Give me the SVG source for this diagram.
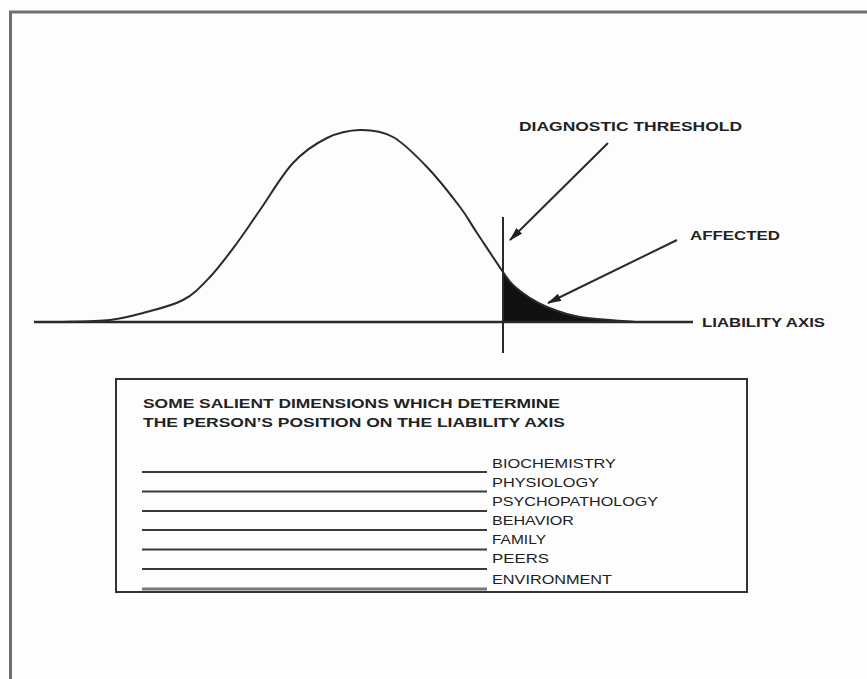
<svg xmlns="http://www.w3.org/2000/svg" width="867" height="679" viewBox="0 0 867 679">
<style>
.frame{fill:none;stroke:#6e6e6e;stroke-width:3}
.ink{fill:none;stroke:#2a2a2a;stroke-width:2}
.axis{fill:none;stroke:#2a2a2a;stroke-width:2.5}
.lbl{font-family:"Liberation Sans",Arial,sans-serif;font-weight:bold;font-size:13px;fill:#222}
.dim{font-family:"Liberation Sans",Arial,sans-serif;font-size:13px;fill:#222}
.rule{stroke:#3a3a3a;stroke-width:2}
.arrow{fill:none;stroke:#2a2a2a;stroke-width:2}
</style>
<defs>
<marker id="ah" viewBox="0 0 14 8" refX="13" refY="4" markerWidth="14" markerHeight="8" markerUnits="userSpaceOnUse" orient="auto">
<path d="M0,0 L14,4 L0,8 Z" fill="#222"/>
</marker>
</defs>
<rect width="867" height="679" fill="#fdfdfd"/>
<g id="frame">
<path class="frame" d="M10.5,679 L10.5,12 L867,12"/>
</g>
<g id="distribution">
<path id="tail" d="M503,272 C509,280.7 508.5,280.7 513,285 C517.5,289.3 524.3,294.3 530,298 C535.7,301.7 538.7,303.8 547,307 C555.3,310.2 565,314.5 580,317 C595,319.5 627.5,321.2 637,322 L503,322 Z" fill="#111"/>
<path id="curve" class="ink" d="M60,322 C68.3,321.7 96.2,321.5 110,320 C123.8,318.5 130.8,316.3 143,313 C155.2,309.7 171.8,306 183,300 C194.2,294 201,286.5 210,277 C219,267.5 228.7,254.2 237,243 C245.3,231.8 250.7,223.3 260,210 C269.3,196.7 281.8,175 293,163 C304.2,151 315.8,143.5 327,138 C338.2,132.5 349,130.2 360,130 C371,129.8 381.8,130.8 393,137 C404.2,143.2 415.8,155.3 427,167 C438.2,178.7 451.7,196 460,207 C468.3,218 469.8,222.2 477,233 C484.2,243.8 497,263.3 503,272 C509,280.7 508.5,280.7 513,285 C517.5,289.3 524.3,294.3 530,298 C535.7,301.7 538.7,303.8 547,307 C555.3,310.2 565,314.5 580,317 C595,319.5 627.5,321.2 637,322"/>
</g>
<g id="liability-axis">
<line class="axis" x1="34" y1="322" x2="693" y2="322"/>
<text class="lbl" x="702" y="326.5" textLength="123" lengthAdjust="spacingAndGlyphs">LIABILITY AXIS</text>
</g>
<g id="threshold">
<line class="ink" x1="503" y1="217" x2="503" y2="353"/>
</g>
<g id="label-threshold">
<text class="lbl" x="519" y="131" textLength="223" lengthAdjust="spacingAndGlyphs">DIAGNOSTIC THRESHOLD</text>
</g>
<g id="label-affected">
<text class="lbl" x="690" y="240" textLength="90" lengthAdjust="spacingAndGlyphs">AFFECTED</text>
</g>
<g id="connectors">
<line class="arrow" x1="608" y1="143" x2="510" y2="240" marker-end="url(#ah)"/>
<line class="arrow" x1="677" y1="240" x2="548" y2="303" marker-end="url(#ah)"/>
</g>
<g id="dimensions-box">
<rect x="116" y="379" width="631" height="213" fill="none" stroke="#333" stroke-width="2"/>
<text class="lbl" x="143" y="408" textLength="417" lengthAdjust="spacingAndGlyphs">SOME SALIENT DIMENSIONS WHICH DETERMINE</text>
<text class="lbl" x="143" y="427" textLength="422" lengthAdjust="spacingAndGlyphs">THE PERSON’S POSITION ON THE LIABILITY AXIS</text>
<line class="rule" x1="142" y1="472" x2="487" y2="472"/>
<line class="rule" x1="142" y1="491.5" x2="487" y2="491.5"/>
<line class="rule" x1="142" y1="511" x2="487" y2="511"/>
<line class="rule" x1="142" y1="530" x2="487" y2="530"/>
<line class="rule" x1="142" y1="549.5" x2="487" y2="549.5"/>
<line class="rule" x1="142" y1="569" x2="487" y2="569"/>
<line x1="142" y1="589" x2="487" y2="589" stroke="#777" stroke-width="3"/>
<text class="dim" x="492" y="468" textLength="124" lengthAdjust="spacingAndGlyphs">BIOCHEMISTRY</text>
<text class="dim" x="492" y="487" textLength="107" lengthAdjust="spacingAndGlyphs">PHYSIOLOGY</text>
<text class="dim" x="492" y="506" textLength="166" lengthAdjust="spacingAndGlyphs">PSYCHOPATHOLOGY</text>
<text class="dim" x="492" y="525" textLength="82" lengthAdjust="spacingAndGlyphs">BEHAVIOR</text>
<text class="dim" x="492" y="544" textLength="54" lengthAdjust="spacingAndGlyphs">FAMILY</text>
<text class="dim" x="492" y="563" textLength="57" lengthAdjust="spacingAndGlyphs">PEERS</text>
<text class="dim" x="492" y="584" textLength="120" lengthAdjust="spacingAndGlyphs">ENVIRONMENT</text>
</g>
</svg>
